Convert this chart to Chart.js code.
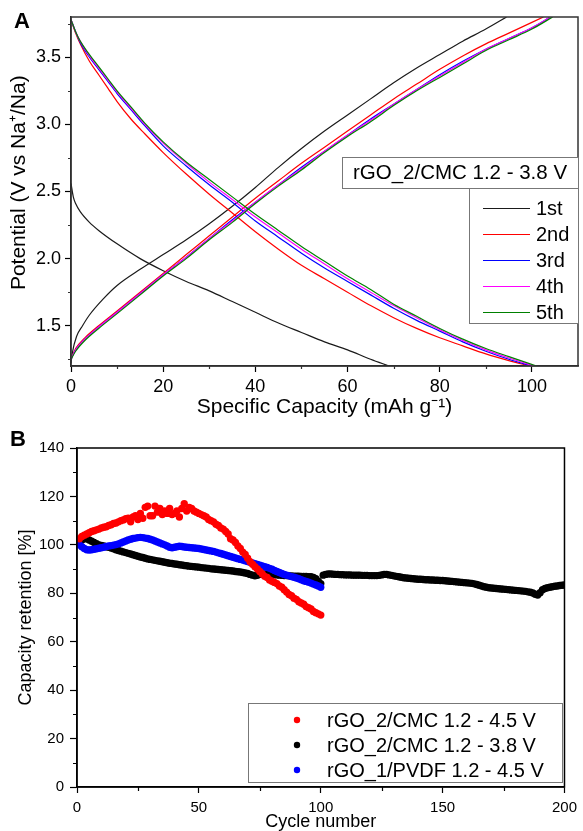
<!DOCTYPE html>
<html>
<head>
<meta charset="utf-8">
<script src="https://cdn.jsdelivr.net/npm/chart.js@4.4.1/dist/chart.umd.min.js"></script>
<style>
  html, body { margin: 0; padding: 0; background: #fff; overflow: hidden; }
  #wrap { position: relative; width: 583px; height: 831px; overflow: hidden; }
  canvas { position: absolute; left: 0; }
  #chartA { top: 0; }
  #chartB { top: 420px; }
</style>
</head>
<body>
<div id="wrap">
  <canvas id="chartA" width="583" height="420"></canvas>
  <canvas id="chartB" width="583" height="413"></canvas>
</div>
<script>
// ---------- Panel A: galvanostatic curves, [capacity mAh/g, potential V] ----------
const cycleLabels = ['1st', '2nd', '3rd', '4th', '5th'];
const cycleColors = ['#1a1a1a', '#ff0000', '#0000ff', '#ff00ff', '#008000'];
const cellTitleA = 'rGO_2/CMC 1.2 - 3.8 V';

const disch1 = [[0,2.56],[0.5,2.46],[1,2.41],[2,2.35],[4,2.27],[6,2.21],[10,2.11],[15,2.0],[20,1.91],[25,1.83],[30,1.76],[35,1.68],[40,1.6],[45,1.52],[50,1.45],[55,1.38],[60,1.32],[65,1.25],[69,1.2]];
const disch2 = [[0,3.78],[1,3.68],[2,3.6],[4,3.47],[6,3.37],[8,3.27],[10,3.17],[13,3.04],[16,2.93],[20,2.79],[25,2.63],[30,2.48],[35,2.34],[40,2.2],[45,2.07],[50,1.95],[55,1.85],[60,1.75],[65,1.65],[70,1.56],[75,1.48],[80,1.41],[85,1.35],[90,1.29],[95,1.24],[99.5,1.2]];
const disch3 = [[0,3.78],[1,3.69],[2,3.61],[4,3.5],[6,3.41],[8,3.32],[10,3.23],[13,3.11],[16,2.99],[20,2.84],[25,2.69],[30,2.55],[35,2.42],[40,2.28],[45,2.16],[50,2.04],[55,1.93],[60,1.83],[65,1.73],[70,1.63],[75,1.54],[80,1.46],[85,1.38],[90,1.31],[95,1.25],[100,1.2]];
const disch4 = [[0,3.78],[1,3.69],[2,3.62],[4,3.51],[6,3.42],[8,3.33],[10,3.24],[13,3.12],[16,3.0],[20,2.86],[25,2.71],[30,2.57],[35,2.44],[40,2.31],[45,2.19],[50,2.07],[55,1.96],[60,1.85],[65,1.75],[70,1.65],[75,1.56],[80,1.47],[85,1.39],[90,1.32],[95,1.26],[100.5,1.2]];
const disch5 = [[0,3.78],[1,3.69],[2,3.62],[4,3.52],[6,3.43],[8,3.34],[10,3.25],[13,3.13],[16,3.01],[20,2.87],[25,2.72],[30,2.59],[35,2.46],[40,2.33],[45,2.21],[50,2.09],[55,1.98],[60,1.87],[65,1.77],[70,1.66],[75,1.57],[80,1.48],[85,1.4],[90,1.33],[95,1.27],[101,1.2]];

const charge1 = [[0,1.22],[0.3,1.3],[1.2,1.42],[2.5,1.5],[4,1.58],[7,1.7],[10,1.8],[15,1.92],[20,2.03],[25,2.14],[30,2.26],[35,2.39],[40,2.53],[45,2.68],[50,2.82],[55,2.95],[60,3.07],[65,3.19],[70,3.31],[75,3.42],[80,3.52],[85,3.62],[90,3.71],[94.5,3.8]];
const charge2 = [[0,1.25],[1,1.33],[3,1.41],[6,1.5],[10,1.61],[15,1.75],[20,1.89],[25,2.03],[30,2.17],[35,2.31],[40,2.45],[45,2.58],[50,2.71],[55,2.83],[60,2.95],[65,3.07],[70,3.19],[75,3.3],[80,3.41],[85,3.51],[90,3.6],[95,3.68],[100,3.76],[102.5,3.8]];
const charge3 = [[0,1.25],[1,1.32],[3,1.4],[6,1.49],[10,1.6],[15,1.74],[20,1.88],[25,2.01],[30,2.15],[35,2.29],[40,2.42],[45,2.55],[50,2.68],[55,2.8],[60,2.92],[65,3.04],[70,3.15],[75,3.26],[80,3.37],[85,3.47],[90,3.56],[95,3.64],[100,3.72],[104,3.8]];
const charge4 = [[0,1.25],[1,1.32],[3,1.4],[6,1.49],[10,1.6],[15,1.74],[20,1.88],[25,2.01],[30,2.15],[35,2.28],[40,2.42],[45,2.55],[50,2.67],[55,2.8],[60,2.92],[65,3.03],[70,3.15],[75,3.26],[80,3.36],[85,3.46],[90,3.56],[95,3.64],[100,3.72],[104,3.8]];
const charge5 = [[0,1.25],[1,1.31],[3,1.39],[6,1.48],[10,1.59],[15,1.73],[20,1.87],[25,2.0],[30,2.14],[35,2.27],[40,2.41],[45,2.54],[50,2.66],[55,2.79],[60,2.91],[65,3.02],[70,3.14],[75,3.25],[80,3.35],[85,3.45],[90,3.55],[95,3.63],[100,3.71],[104.5,3.8]];

const xTicksA = [0, 20, 40, 60, 80, 100];
const xMinorA = [10, 30, 50, 70, 90];
const yTicksA = [1.5, 2.0, 2.5, 3.0, 3.5];
const yMinorA = [1.25, 1.75, 2.25, 2.75, 3.25, 3.75];

// ---------- Panel B: capacity retention [%] per cycle ----------
const seriesLabelsB = ['rGO_2/CMC 1.2 - 4.5 V', 'rGO_2/CMC 1.2 - 3.8 V', 'rGO_1/PVDF 1.2 - 4.5 V'];
const seriesColorsB = ['#ff0000', '#000000', '#0000ff'];

const cmc45 = [
  102.5,103.5,104,104.5,105,105.5,105.8,106.2,106.5,107,
  107.3,107.5,108,108.3,108.8,109,109.5,110,110.3,110.8,
  111,109.5,111.5,112,110.5,113,111,115.5,116,112,
  112,116,113.5,115,112.5,114,113,115,112.5,113,
  114,111.5,115,117,114,115.5,115,114,113.5,113,
  112.5,112,111.5,110.5,110,109.5,108.5,108,107,106.5,
  105.5,104.5,102.5,102,101,99.5,98.5,97,96,94.5,
  93,92,91,90,89,88,87,86.5,85.5,85,
  84.5,84,83,82.5,81.5,80.5,79.5,79,78,77.5,
  76.5,76,75.5,74.5,74,73.5,72.5,72,71.5,71
];
const cmc38 = [
  101,102,102.5,102.5,102,101.5,101,100.5,100,99.8,
  99.5,99.2,99,98.7,98.4,98,97.7,97.4,97.1,96.8,
  96.5,96.2,95.9,95.6,95.3,95,94.8,94.5,94.2,94,
  93.8,93.6,93.4,93.2,93,92.8,92.6,92.4,92.3,92.1,
  92,91.8,91.7,91.5,91.4,91.2,91.1,91,90.9,90.8,
  90.6,90.5,90.4,90.3,90.1,90,89.9,89.8,89.7,89.6,
  89.5,89.4,89.3,89.2,89,88.9,88.8,88.6,88.4,88.2,
  87.8,87.5,87.2,87.4,87.8,87.9,88,88,87.9,87.8,
  87.7,87.6,87.5,87.4,87.3,87.3,87.2,87.2,87.1,87.1,
  87.1,87,87,87,86.9,86.8,86.5,86,85,84,
  87.5,87.8,88,88,87.9,87.8,87.8,87.7,87.7,87.6,
  87.6,87.6,87.5,87.5,87.5,87.5,87.4,87.4,87.4,87.3,
  87.3,87.3,87.3,87.4,87.6,87.8,87.8,87.6,87.4,87.2,
  87,86.8,86.6,86.4,86.3,86.2,86.1,86,85.9,85.8,
  85.8,85.7,85.6,85.6,85.5,85.5,85.4,85.4,85.3,85.3,
  85.2,85.1,85,84.9,84.8,84.7,84.6,84.5,84.4,84.3,
  84.2,84.1,83.9,83.6,83.3,83,82.7,82.5,82.3,82.2,
  82.1,82,81.9,81.8,81.7,81.6,81.5,81.4,81.3,81.2,
  81.1,81,80.9,80.8,80.6,80.4,80.1,79.6,79.3,80.2,
  81.5,82,82.3,82.5,82.7,82.9,83,83.2,83.3,83.4
];
const pvdf45 = [
  100,99.2,98.5,98,97.9,98,98.2,98.4,98.6,98.8,
  99,99.3,99.5,99.7,99.9,100.1,100.4,100.8,101.2,101.6,
  102,102.3,102.6,102.8,103,103.1,103,102.8,102.6,102.3,
  102,101.6,101.2,100.8,100.4,100,99.5,99,98.8,99,
  99.2,99.4,99.3,99.1,99,98.9,98.8,98.7,98.6,98.5,
  98.3,98.1,97.9,97.7,97.5,97.3,97,96.7,96.4,96.1,
  95.8,95.5,95.2,94.9,94.6,94.3,94,93.7,93.4,93.1,
  92.8,92.5,92.2,91.9,91.6,91.3,91,90.7,90.3,89.9,
  89.4,89,88.6,88.2,87.8,87.5,87.2,86.9,86.6,86.3,
  86,85.6,85.2,84.9,84.6,84.2,83.8,83.4,83,82.5
];

const xTicksB = [0, 50, 100, 150, 200];
const xMinorB = [25, 75, 125, 175];
const yTicksB = [0, 20, 40, 60, 80, 100, 120, 140];
const yMinorB = [10, 30, 50, 70, 90, 110, 130];

const FONT = '"Liberation Sans", Arial, Helvetica, sans-serif';
Chart.defaults.font.family = FONT;
Chart.defaults.color = '#000';

// frame on all four sides, minor ticks and the panel letter
function axisExtras(cfg) {
  return {
    id: 'axisExtras',
    afterDraw(chart) {
      const { ctx, chartArea: a, scales: { x, y } } = chart;
      ctx.save();
      ctx.strokeStyle = cfg.frameColor;
      ctx.lineWidth = cfg.frameWidth;
      ctx.strokeRect(a.left, a.top, a.right - a.left, a.bottom - a.top);
      ctx.lineWidth = 1.2;
      ctx.beginPath();
      cfg.xMinor.forEach((v) => {
        const px = Math.round(x.getPixelForValue(v)) + 0.5;
        ctx.moveTo(px, a.bottom);
        ctx.lineTo(px, a.bottom + cfg.minorLen);
      });
      cfg.yMinor.forEach((v) => {
        const py = Math.round(y.getPixelForValue(v)) + 0.5;
        ctx.moveTo(a.left, py);
        ctx.lineTo(a.left - cfg.minorLen, py);
      });
      ctx.stroke();
      ctx.fillStyle = '#000';
      ctx.font = 'bold 22px ' + FONT;
      ctx.textAlign = 'left';
      ctx.textBaseline = 'middle';
      ctx.fillText(cfg.letter, cfg.letterX, cfg.letterY);
      ctx.restore();
    },
  };
}

const legendA = {
  id: 'legendA',
  afterDraw(chart) {
    const { ctx } = chart;
    ctx.save();
    ctx.strokeStyle = '#777';
    ctx.lineWidth = 1;
    ctx.fillStyle = '#fff';
    ctx.fillRect(342, 157, 236, 31);
    ctx.strokeRect(342.5, 157.5, 236, 31);
    ctx.fillRect(469, 188, 109, 135);
    ctx.strokeRect(469.5, 188.5, 109, 135);
    ctx.fillStyle = '#000';
    ctx.font = '20.5px ' + FONT;
    ctx.textBaseline = 'middle';
    ctx.textAlign = 'center';
    ctx.fillText(cellTitleA, 460, 173);
    ctx.textAlign = 'left';
    ctx.font = '20px ' + FONT;
    cycleLabels.forEach((lab, i) => {
      const yy = 208 + i * 26;
      ctx.strokeStyle = cycleColors[i];
      ctx.lineWidth = 1.2;
      ctx.beginPath();
      ctx.moveTo(483, yy + 0.5);
      ctx.lineTo(530, yy + 0.5);
      ctx.stroke();
      ctx.fillText(lab, 536, yy + 1);
    });
    ctx.restore();
  },
};

const legendB = {
  id: 'legendB',
  afterDraw(chart) {
    const { ctx } = chart;
    ctx.save();
    ctx.fillStyle = '#fff';
    ctx.fillRect(248, 283, 314, 79);
    ctx.strokeStyle = '#777';
    ctx.lineWidth = 1;
    ctx.strokeRect(248.5, 283.5, 314, 79);
    ctx.font = '20px ' + FONT;
    ctx.textBaseline = 'middle';
    ctx.textAlign = 'left';
    seriesLabelsB.forEach((lab, i) => {
      const yy = 300 + i * 25;
      ctx.fillStyle = seriesColorsB[i];
      ctx.beginPath();
      ctx.arc(297, yy, 3.2, 0, Math.PI * 2);
      ctx.fill();
      ctx.fillStyle = '#000';
      ctx.fillText(lab, 327, yy + 1);
    });
    ctx.restore();
  },
};

function fixedTicks(values) {
  return (scale) => { scale.ticks = values.map((v) => ({ value: v })); };
}

// ---------- Chart A ----------
const curvesA = [];
[disch1, disch2, disch3, disch4, disch5].forEach((c, i) => curvesA.push({ pts: c, i }));
[charge1, charge2, charge3, charge4, charge5].forEach((c, i) => curvesA.push({ pts: c, i }));

new Chart(document.getElementById('chartA'), {
  type: 'scatter',
  data: {
    datasets: curvesA.map(({ pts, i }) => ({
      label: cycleLabels[i],
      data: pts.map(([x, y]) => ({ x, y })),
      showLine: true,
      borderColor: cycleColors[i],
      borderWidth: 1.2,
      pointRadius: 0,
      cubicInterpolationMode: 'monotone',
      order: 5 - i,
    })),
  },
  options: {
    responsive: false,
    animation: false,
    events: [],
    layout: { padding: { top: 17, right: 5, left: 0, bottom: 0 } },
    plugins: { legend: { display: false }, tooltip: { enabled: false } },
    scales: {
      x: {
        type: 'linear', min: 0, max: 110,
        afterBuildTicks: fixedTicks(xTicksA),
        afterFit: (s) => { s.height = 54; },
        ticks: { font: { size: 18 }, padding: 4, maxRotation: 0, color: '#000' },
        grid: { drawOnChartArea: false, drawTicks: true, tickLength: 6, tickWidth: 1.2, tickColor: '#000' },
        border: { color: '#222', width: 1.5 },
        title: { display: true, text: 'Specific Capacity (mAh g\u207B\u00B9)', font: { size: 21 }, padding: { top: 0, bottom: 0 }, color: '#000' },
      },
      y: {
        type: 'linear', min: 1.2, max: 3.8,
        afterBuildTicks: fixedTicks(yTicksA),
        afterFit: (s) => { s.width = 71; },
        ticks: { font: { size: 18 }, padding: 4, color: '#000', callback: (v) => Number(v).toFixed(1) },
        grid: { drawOnChartArea: false, drawTicks: true, tickLength: 6, tickWidth: 1.2, tickColor: '#000' },
        border: { color: '#222', width: 1.5 },
        title: { display: true, text: '   Potential (V vs Na\u207A/Na)', font: { size: 21 }, padding: { top: 7, bottom: 0 }, color: '#000' },
      },
    },
  },
  plugins: [axisExtras({ frameColor: '#333', frameWidth: 1.5, xMinor: xMinorA, yMinor: yMinorA, minorLen: 3, letter: 'A', letterX: 14, letterY: 22 }), legendA],
});

// ---------- Chart B ----------
const retention = [cmc45, cmc38, pvdf45];

new Chart(document.getElementById('chartB'), {
  type: 'scatter',
  data: {
    datasets: retention.map((vals, i) => ({
      label: seriesLabelsB[i],
      data: vals.map((v, k) => ({ x: k + 1, y: v })),
      backgroundColor: seriesColorsB[i],
      borderWidth: 0,
      pointRadius: 3.7,
      order: [1, 3, 2][i],
    })),
  },
  options: {
    responsive: false,
    animation: false,
    events: [],
    layout: { padding: { top: 28, right: 14, left: 0, bottom: 0 } },
    plugins: { legend: { display: false }, tooltip: { enabled: false } },
    scales: {
      x: {
        type: 'linear', min: 0, max: 200,
        afterBuildTicks: fixedTicks(xTicksB),
        afterFit: (s) => { s.height = 46; },
        ticks: { font: { size: 15 }, padding: 6, maxRotation: 0, color: '#000' },
        grid: { drawOnChartArea: false, drawTicks: true, tickLength: 6, tickWidth: 1.2, tickColor: '#000' },
        border: { color: '#000', width: 1.5 },
        title: { display: true, text: 'Cycle number', font: { size: 18 }, padding: { top: 0, bottom: 0 }, color: '#000' },
      },
      y: {
        type: 'linear', min: 0, max: 140,
        afterBuildTicks: fixedTicks(yTicksB),
        afterFit: (s) => { s.width = 77; },
        ticks: { font: { size: 15 }, padding: 6, color: '#000' },
        grid: { drawOnChartArea: false, drawTicks: true, tickLength: 7, tickWidth: 1.2, tickColor: '#000' },
        border: { color: '#000', width: 1.5 },
        title: { display: true, text: 'Capacity retention [%]', font: { size: 18 }, padding: { top: 15, bottom: 0 }, color: '#000' },
      },
    },
  },
  plugins: [axisExtras({ frameColor: '#000', frameWidth: 1.5, xMinor: xMinorB, yMinor: yMinorB, minorLen: 4, letter: 'B', letterX: 10, letterY: 20 }), legendB],
});
</script>
</body>
</html>
